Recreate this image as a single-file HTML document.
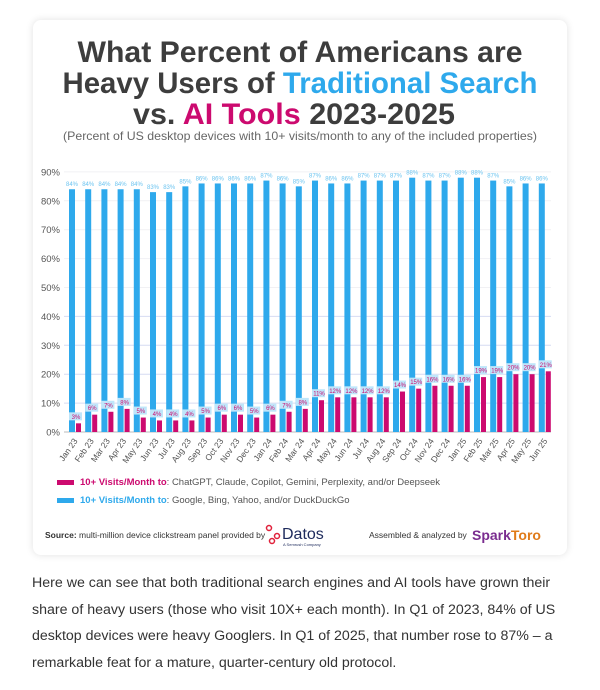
<!DOCTYPE html>
<html><head><meta charset="utf-8"><style>
body{margin:0;background:#fff;width:600px;height:690px;overflow:hidden;font-family:"Liberation Sans",sans-serif;}
#card{position:absolute;left:33px;top:20px;width:534px;height:535px;background:#fff;border-radius:8px;box-shadow:0 0 8px rgba(0,0,0,0.12);}
svg{position:absolute;left:0;top:0;}
#para{position:absolute;left:32px;top:570px;width:550px;font-size:14.2px;line-height:26.6px;color:#333;margin:0;}
</style></head><body>
<div id="card"></div>
<svg id="chart" width="600" height="560">
<g font-weight="bold" font-size="30" fill="#3d3d3d" text-anchor="middle">
<text x="300" y="62" textLength="445" lengthAdjust="spacingAndGlyphs">What Percent of Americans are</text>
<text x="300" y="93" textLength="475" lengthAdjust="spacingAndGlyphs">Heavy Users of <tspan fill="#2ea9ec">Traditional Search</tspan></text>
<text x="294" y="124" textLength="322" lengthAdjust="spacingAndGlyphs">vs. <tspan fill="#cc0a6f">AI Tools</tspan> 2023-2025</text>
</g>
<text x="300" y="140" font-size="12" fill="#666" text-anchor="middle" textLength="474" lengthAdjust="spacingAndGlyphs">(Percent of US desktop devices with 10+ visits/month to any of the included properties)</text>
<g id="grid"></g><g id="bars"></g><g id="labels"></g><g id="xlabels"></g>
<g font-size="9.5">
<rect x="57" y="480" width="17" height="5" fill="#cc0a6f"/>
<text x="80" y="485" fill="#555"><tspan fill="#cc0a6f" font-weight="bold">10+ Visits/Month to</tspan>: ChatGPT, Claude, Copilot, Gemini, Perplexity, and/or Deepseek</text>
<rect x="57" y="498" width="17" height="5" fill="#2ea9ec"/>
<text x="80" y="503" fill="#555"><tspan fill="#2ea9ec" font-weight="bold">10+ Visits/Month to</tspan>: Google, Bing, Yahoo, and/or DuckDuckGo</text>
</g>
<g font-size="8.5" fill="#333">
<text x="45" y="538"><tspan font-weight="bold">Source:</tspan> multi-million device clickstream panel provided by</text>
<g>
<circle cx="269" cy="528" r="2.5" fill="none" stroke="#e0203a" stroke-width="1.5"/><circle cx="277" cy="536" r="2.5" fill="none" stroke="#e0203a" stroke-width="1.5"/><circle cx="272" cy="541" r="2.5" fill="none" stroke="#e0203a" stroke-width="1.5"/>
<text x="282" y="539" font-size="16" fill="#1d2a5c">Datos</text>
<text x="283" y="546" font-size="4" fill="#1d2a5c">A Semrush Company</text></g>
<text x="369" y="538">Assembled &amp; analyzed by</text>
<text x="472" y="540" font-size="14" font-weight="bold" fill="#7a2c8f">Spark<tspan fill="#e07b1a">Toro</tspan></text>
</g>
</svg>
<p id="para">Here we can see that both traditional search engines and AI tools have grown their<br>share of heavy users (those who visit 10X+ each month). In Q1 of 2023, 84% of US<br>desktop devices were heavy Googlers. In Q1 of 2025, that number rose to 87% – a<br>remarkable feat for a mature, quarter-century old protocol.</p>
<script>
const months=["Jan 23","Feb 23","Mar 23","Apr 23","May 23","Jun 23","Jul 23","Aug 23","Sep 23","Oct 23","Nov 23","Dec 23","Jan 24","Feb 24","Mar 24","Apr 24","May 24","Jun 24","Jul 24","Aug 24","Sep 24","Oct 24","Nov 24","Dec 24","Jan 25","Feb 25","Mar 25","Apr 25","May 25","Jun 25"];
const searchVals=[84,84,84,84,84,83,83,85,86,86,86,86,87,86,85,87,86,86,87,87,87,88,87,87,88,88,87,85,86,86];
const aiVals=[3,6,7,8,5,4,4,4,5,6,6,5,6,7,8,11,12,12,12,12,14,15,16,16,16,19,19,20,20,21];
const yTicks=[0,10,20,30,40,50,60,70,80,90];
const NS="http://www.w3.org/2000/svg";
const y0=432,pxPer=2.89,x0=72,step=16.2;
const y=v=>y0-v*pxPer, x=i=>x0+i*step;
function mk(t,a,p){const e=document.createElementNS(NS,t);for(const k in a)e.setAttribute(k,a[k]);p.appendChild(e);return e;}
const grid=document.getElementById('grid'),bars=document.getElementById('bars'),labels=document.getElementById('labels'),xl=document.getElementById('xlabels');
yTicks.forEach(t=>{
 const l=mk('line',{x1:64,x2:551,y1:y(t),y2:y(t),stroke:t===0?'#bbb':(t>=10&&t<=40?'#d6dcf2':'#f1f1f4'),'stroke-width':1},grid);
 
 
 const tx=mk('text',{x:60,y:y(t)+3.5,'font-size':9.5,fill:'#555','text-anchor':'end'},grid);
 tx.textContent=t+'%';
 
 
});
months.forEach((m,i)=>{
 const b=mk('rect',{x:x(i)-3,y:y(searchVals[i]),width:6,height:searchVals[i]*pxPer,fill:'#2ea9ec'},bars);
 
 
 const a=mk('rect',{x:x(i)+4,y:y(aiVals[i]),width:5,height:aiVals[i]*pxPer,fill:'#cc0a6f'},bars);
 
 
 const sl=mk('text',{x:x(i),y:y(searchVals[i])-3,'font-size':6,fill:'#6cc4f0','text-anchor':'middle'},labels);
 sl.textContent=searchVals[i]+'%';
 
 
 const bg=mk('rect',{x:x(i)-3,y:y(aiVals[i])-11,width:13,height:8,fill:'#bfe6fa'},labels);
 
 
 const al=mk('text',{x:x(i)+4,y:y(aiVals[i])-4.5,'font-size':6,fill:'#cc0a6f','text-anchor':'middle'},labels);
 al.textContent=aiVals[i]+'%';
 
 
 const ml=mk('text',{x:x(i)+6,y:441,'font-size':8.5,fill:'#555','text-anchor':'end',transform:`rotate(-55 ${x(i)+6} 441)`},xl);
 ml.textContent=m;
 
 
});
</script>
</body></html>
